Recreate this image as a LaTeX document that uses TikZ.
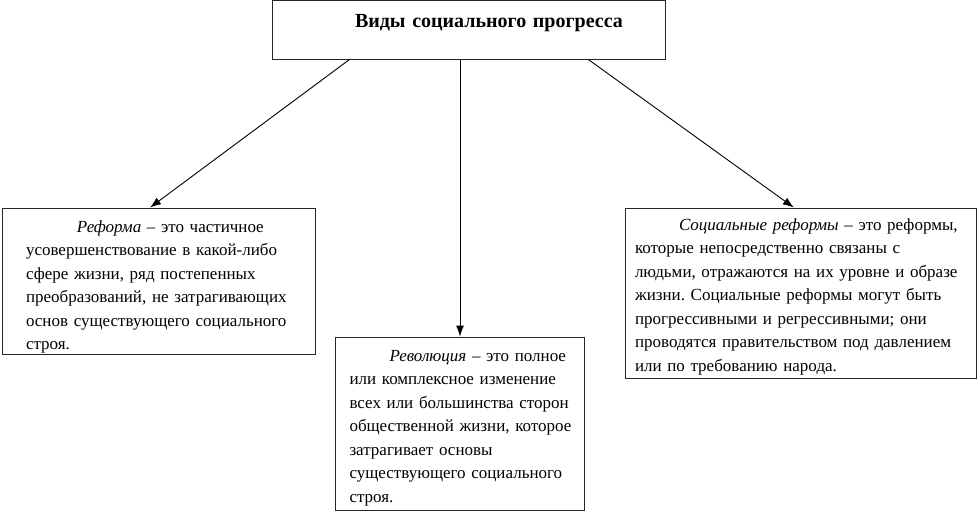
\documentclass[tikz,border=0pt]{standalone}
\usepackage{fontspec}
\setmainfont{Liberation Serif}
\usepackage{tikz}
\usetikzlibrary{positioning,calc,arrows.meta}
\frenchspacing

\tikzset{
  box/.style={draw=black!85, line width=0.9pt, align=left, inner ysep=0pt,
              font=\fontsize{17}{23.5}\selectfont},
  link/.style={line width=0.9pt, -{Latex[length=11pt,width=8pt]}}
}

\begin{document}
\begin{tikzpicture}[x=1pt, y=-1pt]
  \useasboundingbox (0,0) rectangle (980,512);

  % title
  \node[box, minimum width=393pt, minimum height=59pt, text width=393pt, inner xsep=0pt,
        text height=27pt, text depth=32pt,
        font=\fontsize{20}{24}\selectfont\bfseries] (kinds) at (468.5, 29.5)
    {\hspace*{83pt}Виды социального прогресса};

  % (a) reform
  \node[box, minimum width=313pt, minimum height=146pt, text width=265pt, inner xsep=24pt,
        text height=24pt, text depth=122pt] (reform) at (158.5, 281)
    {\hspace*{51pt}\textit{Реформа} – это частичное\\
     усовершенствование в какой-либо\\
     сфере жизни, ряд постепенных\\
     преобразований, не затрагивающих\\
     основ существующего социального\\
     строя.};

  % (b) revolution
  \node[box, minimum width=249pt, minimum height=173pt, text width=221pt, inner xsep=14pt,
        text height=24pt, text depth=149pt] (revol) at (460, 423.5)
    {\hspace*{40pt}\textit{Революция} – это полное\\
     или комплексное изменение\\
     всех или большинства сторон\\
     \mbox{общественной жизни, которое}\\
     затрагивает основы\\
     существующего социального\\
     строя.};

  % (c) social reforms
  \node[box, minimum width=351pt, minimum height=170pt, text width=331pt, inner xsep=10pt,
        text height=22pt, text depth=148pt] (social) at (800.5, 293)
    {\hspace*{44pt}\textit{Социальные реформы} – это реформы,\\
     которые непосредственно связаны с\\
     людьми, отражаются на их уровне и образе\\
     жизни. Социальные реформы могут быть\\
     прогрессивными и регрессивными; они\\
     проводятся правительством под давлением\\
     или по требованию народа.};

  % arrows
  \draw[link] ($(kinds.south west)!0.198!(kinds.south east)$) -- ($(reform.north west)!0.473!(reform.north east)$);
  \draw[link] (revol.north |- kinds.south) -- (revol.north);
  \draw[link] ($(kinds.south west)!0.804!(kinds.south east)$) -- ($(social.north west)!0.481!(social.north east)$);
\end{tikzpicture}
\end{document}
